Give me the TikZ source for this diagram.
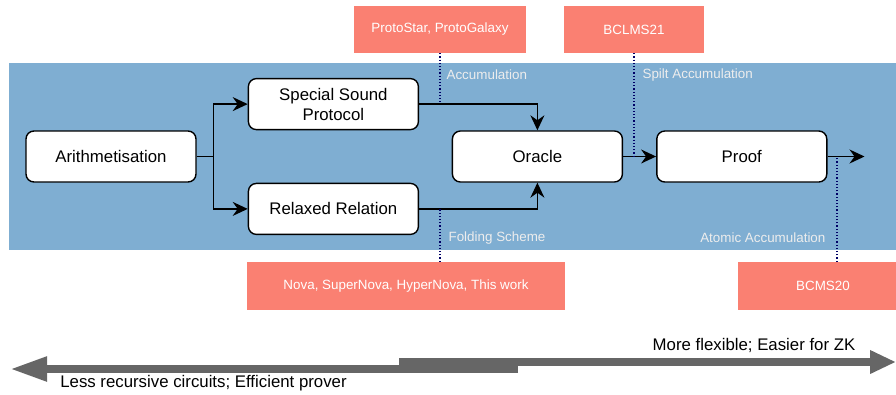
\documentclass[tikz,border=0pt]{standalone}
\usepackage{fontspec}
\setmainfont{Liberation Sans}
\usetikzlibrary{positioning,arrows.meta}
\definecolor{bandblue}{RGB}{127,174,210}
\definecolor{refsalmon}{RGB}{250,128,114}
\definecolor{dotnavy}{RGB}{0,0,102}
\definecolor{flowgray}{RGB}{102,102,102}

\begin{document}
\begin{tikzpicture}[
x=1pt,
y=-1pt,
box/.style={
  draw,
  fill=white,
  rounded corners=8pt,
  line width=1.4pt,
  minimum width=170pt,
  minimum height=51pt,
  align=center,
  font=\fontsize{16.8}{20}\selectfont
  },
paper/.style={
  fill=refsalmon,
  text=white,
  minimum height=47pt,
  font=\fontsize{13.4}{16}\selectfont
  },
tag/.style={
  text=white!93!black,
  inner sep=0pt,
  font=\fontsize{13.4}{16}\selectfont
  },
link/.style={
  line width=1.5pt,
  -{Stealth[length=15pt,width=14pt,inset=5pt]}
  },
hint/.style={
  dotted,
  line width=1.2pt,
  draw=dotnavy
  },
trend/.style={
  draw=flowgray,
  line width=8pt
  },
caption/.style={
  font=\fontsize{16.8}{20}\selectfont
  }
]
\useasboundingbox (0,0) rectangle (896,394);

% blue band behind the flow
\node[fill=bandblue, inner sep=0pt, minimum width=887pt, minimum height=187pt] (band) at (452.5,156.5) {};

\node[box] (arith) at (111,156.5) {Arithmetisation};
\node[box, above right=0pt and 51pt of arith] (ssp) {Special Sound\\ Protocol};
\node[box, below right=0pt and 51pt of arith] (rr) {Relaxed Relation};
\node[box, right=255pt of arith] (oracle) {Oracle};
\node[box, right=33pt of oracle] (proof) {Proof};

% papers
\node[paper, minimum width=172pt] (proto) at (440,29.5) {ProtoStar, ProtoGalaxy};
\node[paper, minimum width=140pt] (bclms) at (634,29.5) {BCLMS21};
\node[paper, minimum width=318pt, minimum height=48pt] (nova) at (406,286) {Nova, SuperNova, HyperNova, This work};
\node[paper, minimum width=170pt, minimum height=48pt] (bcms) at (823,286) {BCMS20};

\draw[link] (arith.east) -- ++(17,0) coordinate (fork) |- (ssp.west);
\draw[link] (fork) |- (rr.west);
\draw[link] (ssp.east) -| (oracle.north);
\draw[link] (rr.east) -| (oracle.south);
\draw[link] (oracle) -- (proof);
\draw[link] (proof.east) -- ++(37,0) coordinate (out);

\draw[hint] (proto.south) -- node[tag, pos=.42, anchor=west, xshift=6pt] {Accumulation} (proto.south |- ssp.east);
\draw[hint] (bclms.south) -- node[tag, pos=.21, anchor=west, xshift=8pt] {Spilt Accumulation} (bclms.south |- oracle.east);
\draw[hint] (proto.south |- nova.north) -- node[tag, pos=.44, anchor=west, xshift=8pt] {Folding Scheme} (proto.south |- rr.east);
\coordinate (atomic) at ([xshift=14pt]bcms.north);
\draw[hint] (atomic) -- node[tag, pos=.23, anchor=east, xshift=-11pt] {Atomic Accumulation} (atomic |- proof.east);

% trade-off arrows
\coordinate (lessend) at (518,369);
\coordinate (lesstip) at (10,369);
\coordinate (morestart) at (399,362);
\coordinate (moretip) at (896,362);
\draw[trend, -{Triangle[length=37pt,width=23pt]}] (lessend) -- (lesstip);
\draw[trend, -{Triangle[length=26pt,width=22pt]}] (morestart) -- (moretip);
\node[caption] (moretext) at (754,345) {More flexible; Easier for ZK};
\node[caption] (lesstext) at (203.5,383) {Less recursive circuits; Efficient prover};

\end{tikzpicture}
\end{document}
